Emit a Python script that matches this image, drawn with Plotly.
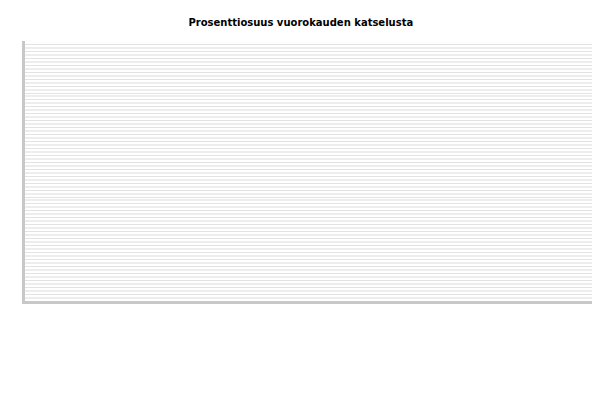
import plotly.graph_objects as go

# Viewing share per hour of the day -- the reference chart shows no data
hours = []
share = []

y_range = [0, 75]
major_step = 2
minor_step = 1

fig = go.Figure()
fig.add_trace(go.Bar(x=hours, y=share, marker_color="#4a7ebb", showlegend=False))

fig.update_layout(
    width=600,
    height=400,
    title=dict(
        text="<b>Prosenttiosuus vuorokauden katselusta</b>",
        x=0.488,
        xanchor="center",
        y=0.965,
        yanchor="middle",
        font=dict(family="DejaVu Sans", size=10, color="#000000"),
    ),
    font=dict(family="DejaVu Sans", size=10),
    # page body adds an 8px offset, so margins are shifted to compensate
    margin=dict(l=17, r=14, t=33, b=107),
    plot_bgcolor="#ffffff",
    paper_bgcolor="#ffffff",
)
fig.update_xaxes(
    showticklabels=False,
    showgrid=False,
    zeroline=False,
    showline=True,
    linecolor="#c8c8c8",
    linewidth=3,
    range=[0, 1],
)
fig.update_yaxes(
    showticklabels=False,
    range=y_range,
    dtick=major_step,
    gridcolor="#e2e2e2",
    gridwidth=1,
    minor=dict(dtick=minor_step, showgrid=True, gridcolor="#ededed", gridwidth=1.5),
    zeroline=False,
    showline=True,
    linecolor="#c8c8c8",
    linewidth=3,
)

fig.write_html("out.html")
